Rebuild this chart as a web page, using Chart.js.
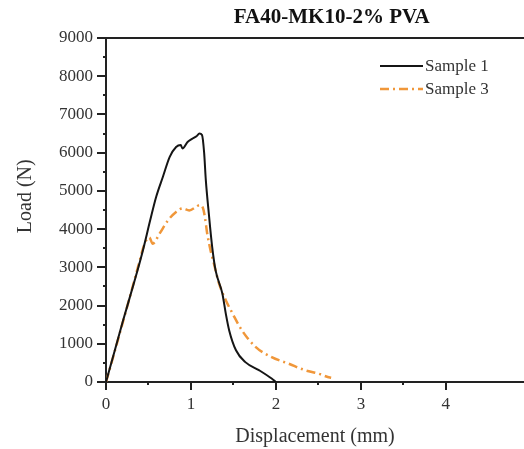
<!DOCTYPE html>
<html>
<head>
<meta charset="utf-8">
<script src="https://cdn.jsdelivr.net/npm/chart.js@4.4.0/dist/chart.umd.min.js"></script>
<style>
html, body { margin: 0; padding: 0; background: #fff; }
#wrap { width: 524px; height: 449px; }
</style>
</head>
<body>
<div id="wrap"><canvas id="myChart" width="524" height="449"></canvas></div>
<script>

const chart_title = 'FA40-MK10-2% PVA';
const x_title = 'Displacement (mm)';
const y_title = 'Load (N)';

const x_tick_labels = [0, 1, 2, 3, 4];
const y_tick_labels = [0, 1000, 2000, 3000, 4000, 5000, 6000, 7000, 8000, 9000];

const sample1_name = 'Sample 1';
const sample1_disp = [0, 0.1, 0.2, 0.338, 0.435, 0.52, 0.59, 0.67, 0.75, 0.825, 0.88, 0.9, 0.96, 1.02, 1.065, 1.1, 1.13, 1.155, 1.175, 1.21, 1.25, 1.29, 1.37, 1.41, 1.45, 1.53, 1.64, 1.8, 1.95, 2.0];
const sample1_load = [0, 800, 1600, 2660, 3450, 4230, 4840, 5370, 5890, 6150, 6200, 6110, 6280, 6370, 6430, 6500, 6460, 6000, 5280, 4410, 3530, 2920, 2310, 1790, 1350, 830, 520, 310, 90, 0];

const sample3_name = 'Sample 3';
const sample3_disp = [0, 0.1, 0.2, 0.3, 0.377, 0.455, 0.51, 0.55, 0.63, 0.73, 0.825, 0.9, 0.98, 1.06, 1.1, 1.14, 1.165, 1.19, 1.23, 1.27, 1.33, 1.41, 1.49, 1.6, 1.76, 1.95, 2.15, 2.34, 2.5, 2.61, 2.65];
const sample3_load = [0, 780, 1580, 2380, 3010, 3620, 3780, 3620, 3880, 4230, 4450, 4540, 4490, 4580, 4630, 4560, 4300, 3900, 3450, 3100, 2580, 2140, 1790, 1350, 920, 650, 480, 310, 220, 130, 110];


function getPoints(xs, ys)
{
	return xs.map((x, i) => ({x: x, y: ys[i]}));
}


const frame_plugin = {
	id: 'frame',

	afterDraw(chart)
	{
		const ctx = chart.ctx;
		const area = chart.chartArea;
		const xs = chart.scales.x;
		const ys = chart.scales.y;

		ctx.save();
		ctx.strokeStyle = '#222';
		ctx.lineWidth = 2;

		// top frame line
		ctx.beginPath();
		ctx.moveTo(area.left - 1, area.top);
		ctx.lineTo(area.right, area.top);
		ctx.stroke();

		// y ticks, major every 1000, minor every 500
		for (let t of ys.ticks)
		{
			const py = Math.round(ys.getPixelForValue(t.value));
			const len = (t.value % 1000 === 0) ? 9 : 3;
			ctx.beginPath();
			ctx.moveTo(area.left, py);
			ctx.lineTo(area.left - len, py);
			ctx.stroke();
		}

		// x ticks, major every 1, minor every 0.5
		for (let t of xs.ticks)
		{
			if (Math.abs(t.value * 2 - Math.round(t.value * 2)) > 1e-6) continue;
			const px = Math.round(xs.getPixelForValue(t.value));
			const len = Number.isInteger(t.value) ? 8 : 3;
			ctx.beginPath();
			ctx.moveTo(px, area.bottom);
			ctx.lineTo(px, area.bottom + len);
			ctx.stroke();
		}

		// title
		ctx.fillStyle = '#111';
		ctx.font = 'bold 21px "Liberation Serif"';
		ctx.textAlign = 'center';
		ctx.textBaseline = 'middle';
		ctx.fillText(chart_title, area.left + (area.right - area.left) * 0.54, 18);

		// y axis title
		ctx.save();
		ctx.translate(area.left - 80, area.top + (area.bottom - area.top) * 0.46);
		ctx.rotate(-Math.PI / 2);
		ctx.fillStyle = '#333';
		ctx.font = '20px "Liberation Serif"';
		ctx.fillText(y_title, 0, 0);
		ctx.restore();

		// legend
		ctx.font = '17px "Liberation Serif"';
		ctx.textAlign = 'left';
		chart.data.datasets.forEach((ds, i) => {
			const ly = area.top + 28 + i * 23;
			ctx.strokeStyle = ds.borderColor;
			ctx.lineWidth = ds.borderWidth;
			ctx.setLineDash(ds.borderDash || []);
			ctx.beginPath();
			ctx.moveTo(area.right - 144, ly);
			ctx.lineTo(area.right - 101, ly);
			ctx.stroke();
			ctx.setLineDash([]);
			ctx.fillStyle = '#333';
			ctx.fillText(ds.label, area.right - 99, ly + 1);
		});

		ctx.restore();
	}
};


window.onload = function()
{
	const canvas = document.getElementById('myChart').getContext('2d');

	new Chart(canvas, {
		type: 'scatter',
		data: {
			datasets: [
				{
					label: sample1_name,
					data: getPoints(sample1_disp, sample1_load),
					showLine: true,
					borderColor: '#151515',
					backgroundColor: '#151515',
					borderWidth: 2,
					pointRadius: 0,
					cubicInterpolationMode: 'monotone',
				},
				{
					label: sample3_name,
					data: getPoints(sample3_disp, sample3_load),
					showLine: true,
					borderColor: '#F0973A',
					backgroundColor: '#F0973A',
					borderWidth: 2.5,
					borderDash: [9, 4, 2, 4],
					pointRadius: 0,
					cubicInterpolationMode: 'monotone',
				},
			],
		},
		options: {
			responsive: false,
			animation: false,
			devicePixelRatio: 1,
			layout: {padding: {top: 38, left: 0, right: 0, bottom: 0}},
			plugins: {
				legend: {display: false},
				title: {display: false},
				tooltip: {enabled: false},
			},
			scales: {
				x: {
					type: 'linear',
					min: 0,
					max: 4.92,
					afterFit: (scale) => { scale.height = 67; },
					grid: {drawOnChartArea: false, drawTicks: true, tickLength: 12, tickColor: 'transparent'},
					border: {display: true, color: '#222', width: 2},
					ticks: {
						stepSize: 0.5,
						autoSkip: false,
						maxRotation: 0,
						padding: 0,
						color: '#333',
						font: {family: '"Liberation Serif"', size: 17},
						callback: (v) => x_tick_labels.includes(v) ? String(v) : '',
					},
					title: {
						display: true,
						text: x_title,
						color: '#333',
						font: {family: '"Liberation Serif"', size: 20},
						padding: {top: 0, bottom: 0},
					},
				},
				y: {
					type: 'linear',
					min: 0,
					max: 9000,
					afterFit: (scale) => { scale.width = 106; },
					grid: {drawOnChartArea: false, drawTicks: true, tickLength: 8, tickColor: 'transparent'},
					border: {display: true, color: '#222', width: 2},
					ticks: {
						stepSize: 500,
						autoSkip: false,
						padding: 5,
						color: '#333',
						font: {family: '"Liberation Serif"', size: 17},
						callback: (v) => y_tick_labels.includes(v) ? String(v) : '',
					},
				},
			},
		},
		plugins: [frame_plugin],
	});
};

</script>
</body>
</html>
